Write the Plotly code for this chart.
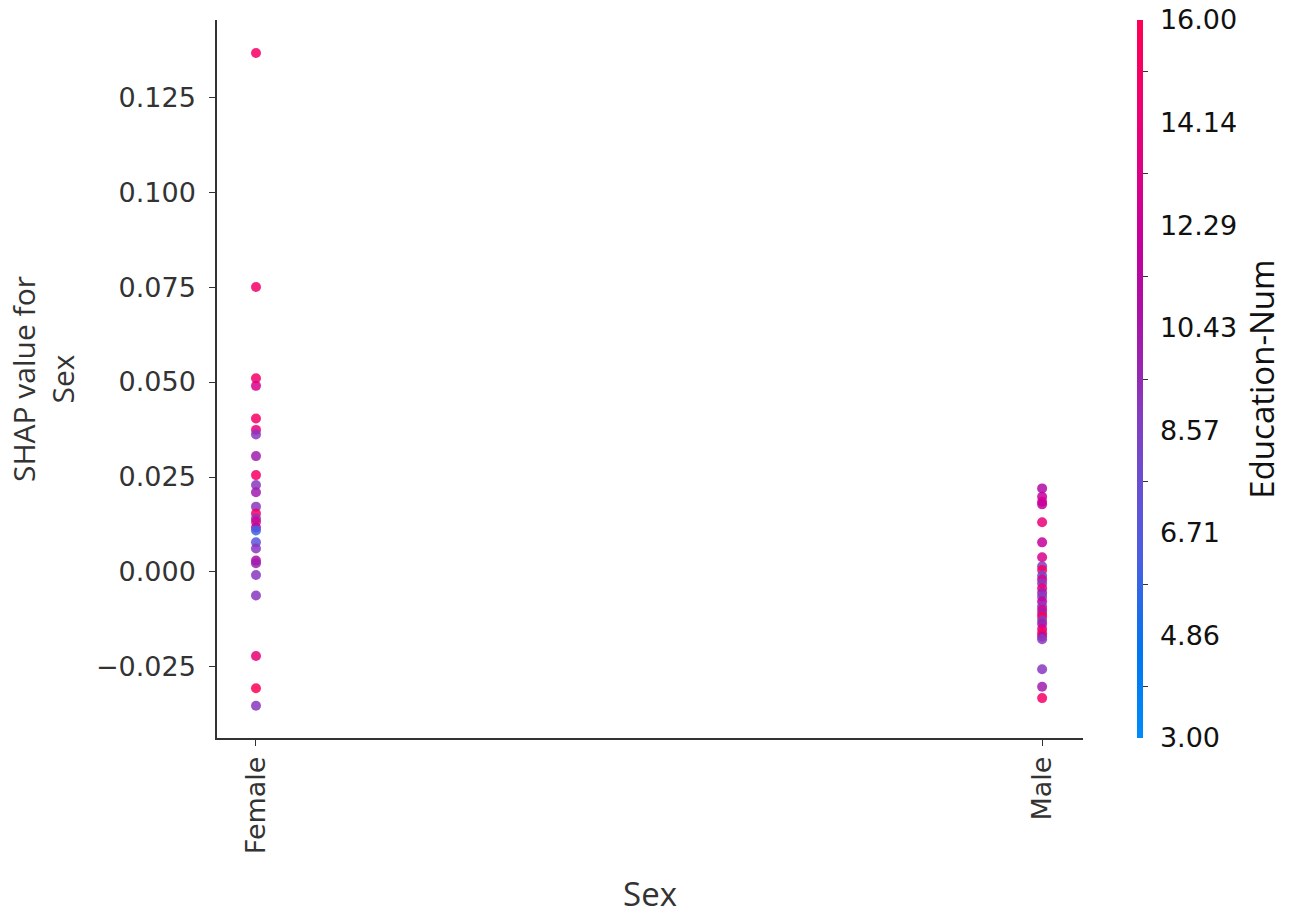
import plotly.graph_objects as go

# Sex categories on the x axis
categories = ["Female", "Male"]

# SHAP values and Education-Num for each record, by sex
female_shap = [0.1366, 0.0750, 0.0510, 0.0490, 0.0404, 0.0374, 0.0362, 0.0305,
               0.0255, 0.0229, 0.0210, 0.0172, 0.0154, 0.0141, 0.0132, 0.0117,
               0.0109, 0.0078, 0.0062, 0.0030, 0.0023, -0.0008, -0.0062,
               -0.0221, -0.0306, -0.0352]
female_edu = [15, 15, 15, 13, 15, 14, 9, 10,
              15, 9, 10, 9, 15, 9, 13, 11,
              6, 7, 9, 11, 10, 9, 9,
              14, 16, 9]

male_shap = [0.0220, 0.0198, 0.0185, 0.0178, 0.0131, 0.0078, 0.0039, 0.0015,
             0.0005, -0.0010, -0.0020, -0.0030, -0.0043, -0.0055, -0.0065,
             -0.0078, -0.0091, -0.0100, -0.0110, -0.0118, -0.0128, -0.0137,
             -0.0150, -0.0161, -0.0170, -0.0177, -0.0256, -0.0302, -0.0332]
male_edu = [11, 12, 13, 12, 14, 12, 13, 9,
            15, 8, 13, 9, 14, 10, 9,
            12, 9, 13, 10, 16, 9, 10,
            13, 16, 11, 9, 9, 10, 15]

# Colour bar labels
cbar_ticks = [3.00, 4.857, 6.714, 8.571, 10.429, 12.286, 14.143, 16.00]
cbar_labels = ["3.00", "4.86", "6.71", "8.57", "10.43", "12.29", "14.14", "16.00"]

xs = [categories[0]] * len(female_shap) + [categories[1]] * len(male_shap)
ys = female_shap + male_shap
cs = female_edu + male_edu

red_blue = [
    [0.00, "#008bfb"], [0.12, "#0075f2"], [0.25, "#4a5ee3"], [0.36, "#6a4ed2"],
    [0.45, "#843cc2"], [0.52, "#9a24b0"], [0.60, "#ae0ea6"], [0.68, "#c2009e"],
    [0.76, "#d6008e"], [0.84, "#e8007a"], [0.92, "#f60066"], [1.00, "#ff0052"],
]

AX = "#333333"
TICK_FONT = "DejaVu Sans"
LABEL_FONT = "Open Sans"
TICK_SIZE = 27
cmin, cmax = cbar_ticks[0], cbar_ticks[-1]
mid_ticks = [(a + b) / 2 for a, b in zip(cbar_ticks[:-1], cbar_ticks[1:])]

fig = go.Figure()

# colour bar carrying only the tick marks between the labels (drawn underneath)
fig.add_trace(go.Scatter(
    x=xs, y=ys, mode="markers", hoverinfo="skip",
    marker=dict(
        size=10, color=cs, colorscale=red_blue, cmin=cmin, cmax=cmax,
        opacity=0, showscale=True,
        colorbar=dict(
            x=1.0624, xanchor="left", xpad=0, y=0, yanchor="bottom", ypad=0,
            len=1, lenmode="fraction", thickness=6, outlinewidth=0,
            tickvals=mid_ticks, ticks="outside", ticklen=5, tickwidth=1,
            tickcolor=AX, showticklabels=False,
        ),
    ),
    showlegend=False,
))

# the scatter points, with the labelled colour bar
fig.add_trace(go.Scatter(
    x=xs, y=ys, mode="markers", hoverinfo="skip",
    marker=dict(
        size=10, color=cs, colorscale=red_blue, cmin=cmin, cmax=cmax,
        opacity=0.85, line=dict(width=0),
        showscale=True,
        colorbar=dict(
            x=1.0624, xanchor="left", xpad=0, y=0, yanchor="bottom", ypad=0,
            len=1, lenmode="fraction", thickness=6, outlinewidth=0,
            tickvals=cbar_ticks, ticktext=cbar_labels,
            ticks="outside", ticklen=12, tickcolor="rgba(0,0,0,0)",
            tickfont=dict(family=TICK_FONT, size=TICK_SIZE, color="#111111"),
            title=dict(text="Education-Num", side="right",
                       font=dict(family=LABEL_FONT, size=33, color="#111111")),
        ),
    ),
    showlegend=False,
))

fig.update_layout(
    width=1293, height=916,
    margin=dict(l=217, r=210, t=20, b=178, autoexpand=False),
    paper_bgcolor="white", plot_bgcolor="white",
    font=dict(family=TICK_FONT, color=AX),
)

fig.update_xaxes(
    type="category", categoryorder="array", categoryarray=categories,
    range=[-0.0496, 1.052],
    showline=True, linecolor=AX, linewidth=1.5, mirror=False,
    showgrid=False, zeroline=False,
    ticks="outside", ticklen=6, tickwidth=1, tickcolor=AX,
    tickangle=-90, tickfont=dict(family=TICK_FONT, size=TICK_SIZE, color=AX),
    title=dict(text="Sex", standoff=31,
               font=dict(family=LABEL_FONT, size=33, color=AX)),
)

fig.update_yaxes(
    range=[-0.0437, 0.1453],
    tickvals=[-0.025, 0.0, 0.025, 0.05, 0.075, 0.1, 0.125],
    tickformat=".3f",
    showline=True, linecolor=AX, linewidth=1.5, mirror=False,
    showgrid=False, zeroline=False,
    ticks="outside", ticklen=6, tickwidth=1, tickcolor=AX,
    ticklabelstandoff=8,
    tickfont=dict(family=TICK_FONT, size=TICK_SIZE, color=AX),
    title=dict(text="SHAP value for<br>Sex", standoff=12,
               font=dict(family=LABEL_FONT, size=30, color=AX)),
)

fig.write_html("out.html")
